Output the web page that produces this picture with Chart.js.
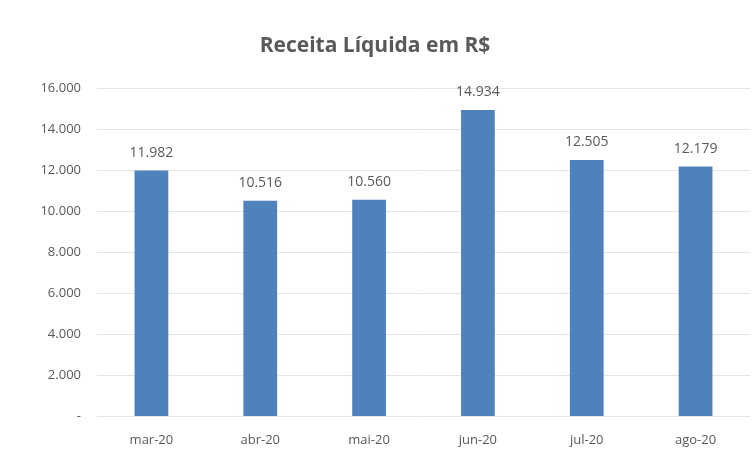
<!DOCTYPE html>
<html lang="pt-BR">
<head>
<meta charset="utf-8">
<script src="https://cdn.jsdelivr.net/npm/chart.js/dist/chart.umd.min.js"></script>
<style>
  html, body { margin: 0; padding: 0; background: #fff; }
  #wrap { width: 756px; height: 456px; }
</style>
</head>
<body>
<div id="wrap"><canvas id="chart"></canvas></div>
<script>
// dados do gráfico
const meses = ['mar-20', 'abr-20', 'mai-20', 'jun-20', 'jul-20', 'ago-20'];
const receita = [11982, 10516, 10560, 14934, 12505, 12179];
const tituloGrafico = 'Receita Líquida em R$';

const fmt = v => v === 0 ? '-' : v.toLocaleString('pt-BR');

// rótulos acima das barras
const rotulos = {
  id: 'rotulos',
  afterDatasetsDraw(chart) {
    const ctx = chart.ctx;
    const meta = chart.getDatasetMeta(0);
    ctx.save();
    ctx.font = '14px "Open Sans", sans-serif';
    ctx.fillStyle = '#595959';
    ctx.textAlign = 'center';
    ctx.textBaseline = 'middle';
    meta.data.forEach((bar, i) => {
      ctx.fillText(fmt(receita[i]), bar.x, bar.y - 18);
    });
    ctx.restore();
  }
};

const ctx = document.getElementById('chart').getContext('2d');
new Chart(ctx, {
  type: 'bar',
  data: {
    labels: meses,
    datasets: [{
      data: receita,
      backgroundColor: '#4f81bd',
      barPercentage: 0.31,
      categoryPercentage: 1
    }]
  },
  options: {
    responsive: true,
    maintainAspectRatio: false,
    animation: false,
    layout: { padding: { left: 0, right: 6, top: 0, bottom: 0 } },
    plugins: {
      legend: { display: false },
      tooltip: { enabled: false },
      title: {
        display: true,
        text: tituloGrafico,
        color: '#595959',
        font: { family: '"Open Sans", sans-serif', size: 21, weight: 'bold' },
        padding: { top: 33, bottom: 30 }
      }
    },
    scales: {
      x: {
        grid: { display: false },
        border: { display: false },
        ticks: {
          color: '#595959',
          font: { family: '"Open Sans", sans-serif', size: 13 },
          padding: 8
        }
      },
      y: {
        min: 0,
        max: 16000,
        afterFit(scale) { scale.width = 97; },
        grid: { color: '#e4e4e4', drawTicks: false },
        border: { display: false },
        ticks: {
          stepSize: 2000,
          color: '#595959',
          font: { family: '"Open Sans", sans-serif', size: 13 },
          padding: 16,
          callback: v => fmt(v)
        }
      }
    }
  },
  plugins: [rotulos]
});
</script>
</body>
</html>
